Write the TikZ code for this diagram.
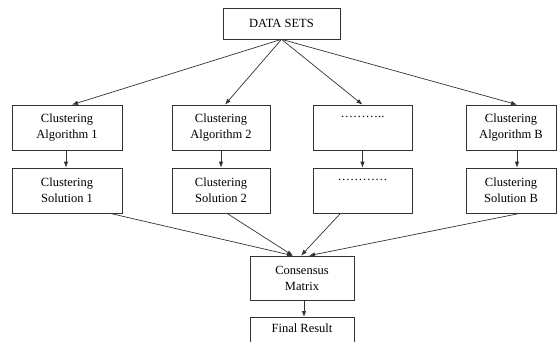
\documentclass[tikz,border=0pt]{standalone}
\usepackage{fontspec}
\setmainfont{Liberation Serif}
\usetikzlibrary{positioning,arrows.meta}

\begin{document}
\begin{tikzpicture}[x=1pt,y=-1pt,
  stage/.style={draw=black!80, line width=0.7pt, align=center, inner sep=0pt,
    minimum height=45pt, font=\fontsize{12.5}{16}\selectfont},
  flow/.style={draw=black!80, line width=0.7pt, -{Latex[length=6pt,width=4.5pt]}},
  node distance=63pt]
\clip (0,0) rectangle (557,341);
\node [stage, minimum width=117pt, minimum height=31pt] (d) at (281.5,23.5) {DATA SETS};
\node [stage, minimum width=110pt] (a1) at (67,127.5) {Clustering\\Algorithm 1};
\node [stage, minimum width=98pt] (a2) at (221,127.5) {Clustering\\Algorithm 2};
\node [stage, minimum width=99pt] (a3) at (362.5,127.5) {………..\\\strut};
\node [stage, minimum width=90pt] (ab) at (511,127.5) {Clustering\\Algorithm B};
\node [stage, minimum width=110pt, below of=a1] (s1) {Clustering\\Solution 1};
\node [stage, minimum width=98pt, below of=a2] (s2) {Clustering\\Solution 2};
\node [stage, minimum width=99pt, below of=a3] (s3) {…………\\\strut};
\node [stage, minimum width=90pt, below of=ab] (sb) {Clustering\\Solution B};
\node [stage, minimum width=104pt, minimum height=44pt] (m) at (302,278) {Consensus\\Matrix};
\node [stage, minimum width=104pt, minimum height=30pt, text depth=8pt, anchor=north] (r) at (302,317) {Final Result};
% data sets to algorithms
\draw [flow] (d.south) -- ([xshift=5pt]a1.north);
\draw [flow] (d.south) -- ([xshift=4pt]a2.north);
\draw [flow] (d.south) -- (a3.north);
\draw [flow] (d.south) -- ([xshift=6pt]ab.north);
% algorithms to solutions
\draw [flow] ([xshift=-1pt]a1.south) -- ([xshift=-1pt]s1.north);
\draw [flow] (a2.south) -- (s2.north);
\draw [flow] (a3.south) -- (s3.north);
\draw [flow] ([xshift=6pt]ab.south) -- ([xshift=6pt]sb.north);
% solutions to consensus
\draw [flow] ([xshift=43pt]s1.south) -- ([xshift=-9pt]m.north);
\draw [flow] ([xshift=6pt]s2.south) -- ([xshift=-9pt]m.north);
\draw [flow] ([xshift=-22pt]s3.south) -- ([xshift=-1pt]m.north);
\draw [flow] ([xshift=9pt]sb.south) -- ([xshift=7pt]m.north);
\draw [flow] ([xshift=2pt]m.south) -- ([xshift=2pt]r.north);
\end{tikzpicture}
\end{document}
